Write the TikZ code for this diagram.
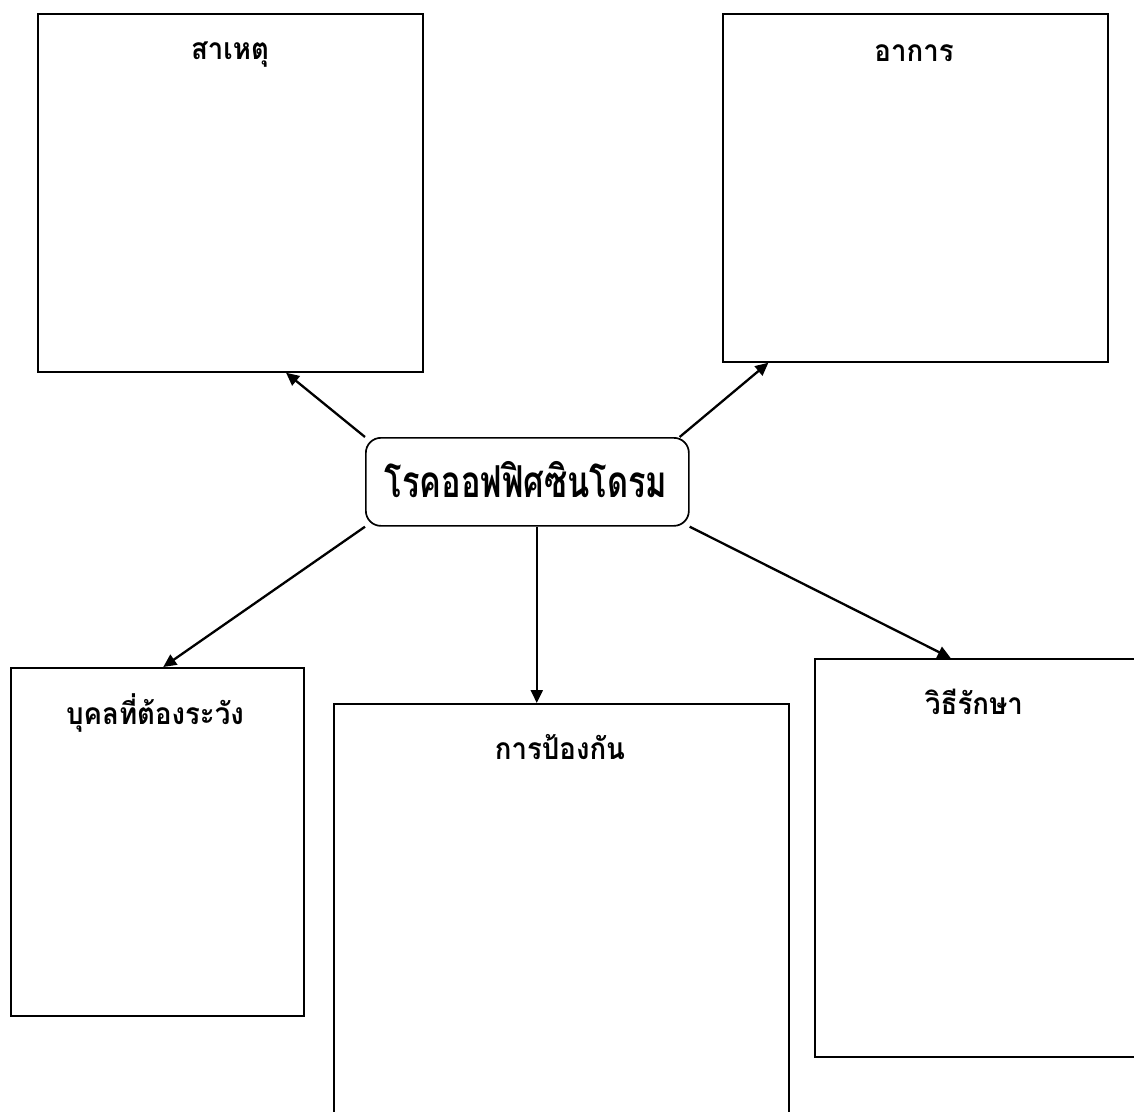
\documentclass[tikz,border=0pt]{standalone}
\usepackage{fontspec}
\newfontfamily\thaifont[Script=Thai,FakeStretch=0.92]{Loma}
\newfontfamily\thaihub[Script=Thai,FakeStretch=0.74]{Loma}
\usetikzlibrary{arrows.meta,calc}
\begin{document}
\begin{tikzpicture}[x=1pt,y=-1pt,
  box/.style={draw=black,line width=1.7pt,rectangle,anchor=north west,inner sep=0pt},
  hub/.style={draw=black,line width=1.7pt,rectangle,rounded corners=15pt,anchor=north west,inner sep=0pt},
  arr/.style={line width=2.3pt,-{Triangle[length=13pt,width=12pt]}},
  lbl/.style={font=\thaifont\bfseries\fontsize{30}{34}\selectfont,inner sep=0pt},
  hubtxt/.style={font=\thaihub\bfseries\fontsize{44}{50}\selectfont,inner sep=0pt}]
\useasboundingbox (0,0) rectangle (1134,1111);
\clip (0,0) rectangle (1134,1111);
% boxes
\node[box,minimum width=385pt,minimum height=358pt] (a) at (37,13) {};
\node[box,minimum width=385pt,minimum height=348pt] (b) at (722,13) {};
\node[hub,minimum width=323pt,minimum height=88pt] (c) at (365,437) {};
\node[box,minimum width=293pt,minimum height=348pt] (d) at (10,667) {};
\node[box,minimum width=455pt,minimum height=430pt] (e) at (333,703) {};
\node[box,minimum width=340pt,minimum height=398pt] (f) at (814,658) {};
% texts
\node[hubtxt] (ct) at (526,480) {โรคออฟฟิศซินโดรม};
\node[lbl] (at) at (230,55) {สาเหตุ};
\node[lbl] (bt) at (914,53) {อาการ};
\node[lbl] (dt) at (155,713) {บุคลที่ต้องระวัง};
\node[lbl] (et) at (560,747) {การป้องกัน};
\node[lbl] (ft) at (974,702) {วิธีรักษา};
% connectors
\coordinate (c1) at (c.north west);
\coordinate (c2) at ($(c.north west)!0.969!(c.north east)$);
\coordinate (c3) at (c.south west);
\coordinate (c4) at ($(c.south west)!0.529!(c.south east)$);
\coordinate (c5) at (c.south east);
\coordinate (a1) at ($(a.south west)!0.644!(a.south east)$);
\coordinate (b1) at ($(b.south west)!0.12!(b.south east)$);
\coordinate (d1) at ($(d.north west)!0.52!(d.north east)$);
\coordinate (f1) at ($(f.north west)!0.40!(f.north east)$);
\draw[arr] (c1) -- (a1);
\draw[arr] (c2) -- (b1);
\draw[arr] (c3) -- (d1);
\draw[arr] (c4) -- (c4 |- e.north);
\draw[arr] (c5) -- (f1);
\end{tikzpicture}
\end{document}
